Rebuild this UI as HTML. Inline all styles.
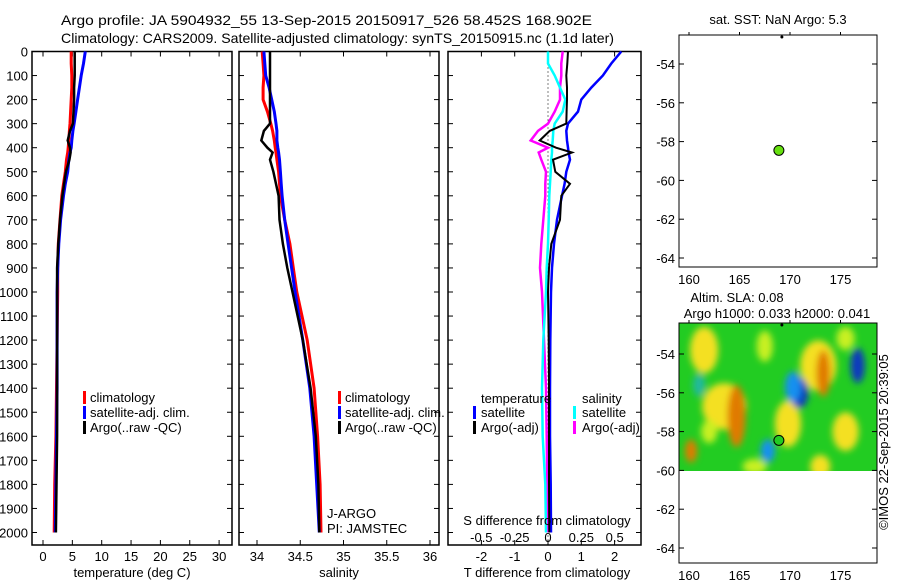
<!DOCTYPE html>
<html><head><meta charset="utf-8"><style>
body{margin:0;background:#fff;}
svg{display:block;font-family:"Liberation Sans",sans-serif;}
text{fill:#000;}
</style></head><body>
<svg id="chart" width="900" height="580" viewBox="0 0 900 580" xmlns="http://www.w3.org/2000/svg">
<defs>
<filter id="blur" x="-20%" y="-20%" width="140%" height="140%"><feGaussianBlur stdDeviation="3.5"/></filter>
<clipPath id="heatclip"><rect x="679" y="323" width="198" height="148"/></clipPath>
</defs>
<text x="61" y="25" font-size="14" textLength="531" lengthAdjust="spacingAndGlyphs">Argo profile: JA 5904932_55 13-Sep-2015 20150917_526 58.452S 168.902E</text>
<text x="61" y="43" font-size="14" textLength="553" lengthAdjust="spacingAndGlyphs">Climatology: CARS2009. Satellite-adjusted climatology: synTS_20150915.nc (1.1d later)</text>
<g id="g"></g>
</svg>
<script>
// ---- data ----
const depths = [0,50,100,150,200,250,300,330,370,400,420,450,500,550,600,700,800,900,1000,1200,1400,1600,1800,2000];
const tempClim = [4.8,4.8,4.9,4.9,4.8,4.7,4.6,4.5,4.4,4.3,4.2,4.0,3.8,3.5,3.2,2.9,2.6,2.5,2.5,2.4,2.3,2.2,2.0,1.9];
const tempSat  = [7.2,6.9,6.5,6.2,5.9,5.6,5.3,5.1,4.9,4.8,4.6,4.4,4.2,3.8,3.5,3.0,2.7,2.5,2.4,2.4,2.4,2.3,2.2,2.1];
const tempArgo = [5.4,5.4,5.4,5.3,5.3,5.2,5.1,4.6,4.2,4.6,4.7,4.5,3.9,3.6,3.3,2.9,2.6,2.4,2.4,2.4,2.4,2.4,2.3,2.2];
const salClim = [34.06,34.07,34.08,34.07,34.07,34.12,34.16,34.18,34.2,34.21,34.22,34.23,34.25,34.26,34.27,34.32,34.38,34.42,34.46,34.58,34.66,34.7,34.73,34.74];
const salSat  = [34.08,34.09,34.10,34.14,34.17,34.2,34.22,34.23,34.23,34.24,34.25,34.26,34.27,34.28,34.29,34.32,34.36,34.4,34.44,34.53,34.61,34.66,34.69,34.72];
const salArgo = [34.15,34.15,34.15,34.15,34.15,34.15,34.15,34.08,34.05,34.12,34.18,34.15,34.19,34.22,34.25,34.26,34.3,34.35,34.41,34.53,34.62,34.68,34.71,34.72];
const dTSat  = [2.2,1.9,1.65,1.3,1.0,0.9,0.6,0.55,0.57,0.6,0.62,0.66,0.55,0.5,0.42,0.27,0.18,0.12,0.09,0.07,0.06,0.06,0.08,0.09];
const dTArgo = [0.6,0.58,0.55,0.57,0.57,0.56,0.55,0.05,-0.25,0.24,0.72,0.15,0.22,0.66,0.4,0.36,0.1,0.03,0.0,0.02,0.03,0.03,0.03,0.04];
const dSArgo = [0.11,0.1,0.1,0.09,0.09,0.05,0.0,-0.075,-0.13,0.0,-0.07,-0.05,-0.015,-0.02,-0.02,-0.035,-0.05,-0.06,-0.045,-0.03,-0.015,-0.01,-0.005,0.0];
const dSSat  = [0.0,0.0,0.05,0.09,0.13,0.11,0.05,0.04,0.035,0.03,0.03,0.025,0.02,0.015,0.01,0.005,0.0,-0.01,-0.015,-0.035,-0.045,-0.04,-0.02,-0.015];
const depthTicks = [0,100,200,300,400,500,600,700,800,900,1000,1100,1200,1300,1400,1500,1600,1700,1800,1900,2000];
const tempTicks = [0,5,10,15,20,25,30];
const salTicks = [34,34.5,35,35.5,36];
const salTickLabels = ["34","34.5","35","35.5","36"];
const dTTicks = [-2,-1,0,1,2];
const dSTicks = [-0.5,-0.25,0,0.25,0.5];
const dSTickLabels = ["-0.5","-0.25","0","0.25","0.5"];
const latTicks = [-54,-56,-58,-60,-62,-64];
const lonTicks = [160,165,170,175];
const argoPos = [168.9,-58.45];
// SLA anomaly blobs: lon, lat, value (-1 blue .. +1 orange), rx(deg), ry(deg)
const slaLon = [163.5,161.5,164.7,169.8,172.8,173.3,170.9,170.3,176.7,167.8,160.2,175.5,173.0,166.5,162,175.5,167.5,161];
const slaLat = [-56.7,-53.8,-57.2,-57.6,-54.6,-55.0,-56.0,-55.7,-54.6,-59.0,-59.0,-58.0,-59.8,-59.8,-58,-53.2,-53.6,-55.6];
const slaVal = [0.55,0.5,0.9,0.5,0.55,0.9,-1.0,-0.6,-0.9,-0.5,0.8,0.5,0.5,0.4,0.2,0.3,0.3,-0.2];
const slaRx = [2.2,1.4,0.9,1.3,1.8,0.7,0.9,0.8,0.7,0.7,0.6,1.3,1.0,1.2,0.8,0.9,0.8,0.6];
const slaRy = [1.2,1.2,1.6,1.2,1.3,1.2,0.8,0.8,0.9,0.6,0.6,1.0,0.6,0.4,0.6,0.6,0.8,0.6];

const NS='http://www.w3.org/2000/svg';
const G=document.getElementById('g');
const FS=13;
function el(tag,attrs,parent){const e=document.createElementNS(NS,tag);for(const k in attrs)e.setAttribute(k,attrs[k]);(parent||G).appendChild(e);return e;}
const Y0=51.5, YS=0.2405;
const yD=d=>Y0+d*YS;
const xT=v=>43+v*5.87;
const xS=v=>257+(v-34)*86.5;
const xDT=v=>548+v*33.3;
const xDS=v=>548+v*133.3;
const mLon=v=>689+(v-160)*10.1;
const mLat1=v=>64+(-54-v)*19.4;
const mLat2=v=>354+(-54-v)*19.4;

function frame(x1,x2,name){
  const r=el('rect',{x:x1,y:Y0,width:x2-x1,height:545-Y0,fill:'none',stroke:'#000','stroke-width':1.5});
  
  
}
function yTicks(x1,x2,labels){
  depthTicks.forEach(d=>{
    const y=yD(d);
    const t=el('line',{x1:x1,x2:x1+5,y1:y,y2:y,stroke:'#000','stroke-width':1});
    
    
    const t2=el('line',{x1:x2-5,x2:x2,y1:y,y2:y,stroke:'#000','stroke-width':1});
    
    
    if(labels){
      const tx=el('text',{x:x1-4,y:y+5,'text-anchor':'end','font-size':FS});
      tx.textContent=d;
      
      
    }
  });
}
function xTicks(vals,labs,fx,ly){
  vals.forEach((v,i)=>{
    const x=fx(v);
    const a=el('line',{x1:x,x2:x,y1:545,y2:540,stroke:'#000'});
    
    
    const b=el('line',{x1:x,x2:x,y1:Y0,y2:Y0+5,stroke:'#000'});
    
    
    if(ly){const t=el('text',{x:x,y:ly,'text-anchor':'middle','font-size':FS});t.textContent=labs[i];
      
      }
  });
}
function line(vals,fx,color,w,name){
  const pts=depths.map((d,i)=>fx(vals[i]).toFixed(1)+','+yD(d).toFixed(1)).join(' ');
  const p=el('polyline',{points:pts,fill:'none',stroke:color,'stroke-width':w,'stroke-linejoin':'miter'});
  
  
}
function txt(x,y,s,name,size,anchor){
  const t=el('text',{x:x,y:y,'font-size':size||FS,'text-anchor':anchor||'start'});t.textContent=s;
  
  
  return t;
}
function mark(x,y,color,name){
  const r=el('rect',{x:x,y:y-11,width:3,height:13,fill:color});
  
  
}

// Panel 1 temperature
frame(32,232,'temperature-panel');
yTicks(32,232,true);
xTicks(tempTicks,tempTicks.map(String),xT,561);
line(tempClim,xT,'#f00',3,'temperature-climatology-line');
line(tempSat,xT,'#00f',3,'temperature-satellite-line');
line(tempArgo,xT,'#000',2.5,'temperature-argo-line');
txt(132,577,'temperature (deg C)','temperature-axis-title',FS,'middle');
mark(83,402,'#f00','legend-climatology-marker');txt(90,402,'climatology','legend-climatology');
mark(83,417,'#00f','legend-satellite-marker');txt(90,417,'satellite-adj. clim.','legend-satellite');
mark(83,432,'#000','legend-argo-marker');txt(90,432,'Argo(..raw -QC)','legend-argo');

// Panel 2 salinity
frame(239,439,'salinity-panel');
yTicks(239,439,false);
xTicks(salTicks,salTickLabels,xS,561);
line(salClim,xS,'#f00',3,'salinity-climatology-line');
line(salSat,xS,'#00f',3,'salinity-satellite-line');
line(salArgo,xS,'#000',2.5,'salinity-argo-line');
txt(339,577,'salinity','salinity-axis-title',FS,'middle');
mark(338,402,'#f00','legend2-climatology-marker');txt(345,402,'climatology','legend2-climatology');
mark(338,417,'#00f','legend2-satellite-marker');txt(345,417,'satellite-adj. clim.','legend2-satellite');
mark(338,432,'#000','legend2-argo-marker');txt(345,432,'Argo(..raw -QC)','legend2-argo');
txt(327,518,'J-ARGO','agency-label');
txt(327,533,'PI: JAMSTEC','pi-label');

// Panel 3 differences
frame(448,641,'difference-panel');
yTicks(448,641,false);
xTicks(dTTicks,dTTicks.map(String),xDT,561);
const zl=el('line',{x1:548,x2:548,y1:Y0,y2:545,stroke:'#000','stroke-dasharray':'1,3','stroke-width':1});


line(dTSat,xDT,'#00f',2.5,'t-diff-satellite-line');
line(dSArgo,xDS,'#f0f',2.5,'s-diff-argo-line');
line(dSSat,xDS,'#0ff',2.5,'s-diff-satellite-line');
line(dTArgo,xDT,'#000',2,'t-diff-argo-line');
dSTicks.forEach((v,i)=>txt(xDS(v),542,dSTickLabels[i],'s-diff-tick-label',FS,'middle'));
txt(547,525,'S difference from climatology','s-diff-axis-title',FS,'middle');
txt(547,577,'T difference from climatology','t-diff-axis-title',FS,'middle');
txt(481,403,'temperature','legend3-temperature-header');
mark(473,417,'#00f','legend3-t-satellite-marker');txt(481,417,'satellite','legend3-t-satellite');
mark(473,432,'#000','legend3-t-argo-marker');txt(481,432,'Argo(-adj)','legend3-t-argo');
txt(582,403,'salinity','legend3-salinity-header');
mark(573,417,'#0ff','legend3-s-satellite-marker');txt(582,417,'satellite','legend3-s-satellite');
mark(573,432,'#f0f','legend3-s-argo-marker');txt(582,432,'Argo(-adj)','legend3-s-argo');

// Maps
function mapFrame(top,bottom,fLat,name){
  const r=el('rect',{x:679,y:top,width:198,height:bottom-top,fill:'none',stroke:'#000','stroke-width':1});
  
  
  latTicks.forEach(v=>{const y=fLat(v);
    const a=el('line',{x1:679,x2:684,y1:y,y2:y,stroke:'#000'});
    
    
    const b=el('line',{x1:872,x2:877,y1:y,y2:y,stroke:'#000'});
    
    
    txt(675,y+5,String(v),'lat-tick-label',FS,'end');});
  lonTicks.forEach(v=>{const x=mLon(v);
    const a=el('line',{x1:x,x2:x,y1:top,y2:top-3,stroke:'#000'});
    
    
    txt(x,bottom+17,String(v),'lon-tick-label',FS,'middle');});
  const s=el('circle',{cx:mLon(argoPos[0])+3,cy:top+2,r:1.5,fill:'#000'});
  
  
}
// SLA heatmap
const hg=el('g',{});
hg.setAttribute('clip-path','url(#heatclip)');


const bg=el('rect',{x:679,y:323,width:198,height:148,fill:'#22cc22'},hg);


const bl=el('g',{filter:'url(#blur)'},hg);
function slaColor(v){
  if(v>0.7)return '#e07a00';if(v>0.45)return '#f4e020';if(v>0.1)return '#c8f020';
  if(v>-0.3)return '#20b8a0';if(v>-0.7)return '#1890f0';return '#0838c0';}
slaLon.forEach((lo,i)=>{
  const e=el('ellipse',{cx:mLon(lo),cy:mLat2(slaLat[i]),rx:slaRx[i]*10.1,ry:slaRy[i]*19.4,fill:slaColor(slaVal[i])},bl);
  
  
});
mapFrame(35,267,mLat1,'sst-map-frame');
mapFrame(323,563,mLat2,'sla-map-frame');
const d1=el('circle',{cx:mLon(argoPos[0]),cy:mLat1(argoPos[1]),r:5,fill:'#66e010',stroke:'#000','stroke-width':1});


const d2=el('circle',{cx:mLon(argoPos[0]),cy:mLat2(argoPos[1]),r:5,fill:'#22cc22',stroke:'#000','stroke-width':1});


txt(778,24,'sat. SST: NaN Argo: 5.3','sst-map-title',FS,'middle');
txt(737,302,'Altim. SLA: 0.08','sla-map-title',FS,'middle');
txt(777,318,'Argo h1000: 0.033 h2000: 0.041','steric-height-title',FS,'middle');
const cr=txt(0,0,'©IMOS 22-Sep-2015 20:39:05','timestamp-label',FS,'middle');
cr.setAttribute('transform','translate(888,442) rotate(-90)');
</script>
</body></html>
